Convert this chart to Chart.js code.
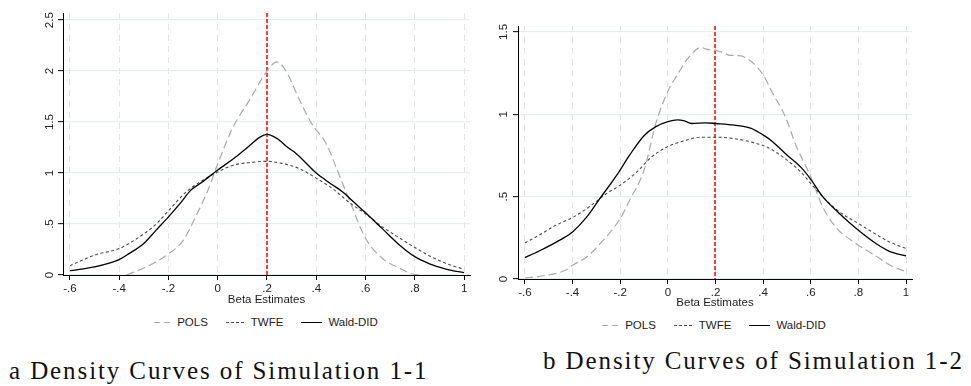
<!DOCTYPE html>
<html>
<head>
<meta charset="utf-8">
<script src="https://cdn.jsdelivr.net/npm/chart.js@4/dist/chart.umd.min.js"></script>
<style>
  html, body { margin: 0; padding: 0; background: #fff; }
  body { width: 971px; height: 386px; position: relative; overflow: hidden; font-family: "Liberation Sans", Arial, sans-serif; }
  .panel { position: absolute; }
  .legend { position: absolute; display: flex; align-items: center; font-size: 11.5px; color: #222; transform: translateX(-50%); white-space: nowrap; }
  .legend .sample { display: inline-block; height: 1px; margin-right: 6px; }
  .legend .item { display: flex; align-items: center; margin-right: 18px; }
  .legend .item:last-child { margin-right: 0; }
  .caption { position: absolute; font-family: "Liberation Serif", "Times New Roman", serif; font-size: 25px; color: #111; letter-spacing: 1.9px; white-space: nowrap; }
</style>
</head>
<body>

<div class="panel" style="left:0;top:0;width:490px;height:307px;"><canvas id="chartA" width="490" height="307"></canvas></div>
<div class="panel" style="left:490px;top:0;width:481px;height:310px;"><canvas id="chartB" width="481" height="310"></canvas></div>

<div class="legend" id="legendA" style="left:266px;top:316px;"></div>
<div class="legend" id="legendB" style="left:714px;top:319px;"></div>

<div class="caption" style="left:9px;top:357px;">a Density Curves of Simulation 1-1</div>
<div class="caption" style="left:543px;top:347px;">b Density Curves of Simulation 1-2</div>

<script>
// ---- data ----
const seriesNames = ['POLS', 'TWFE', 'Wald-DID'];
const xTicks = [-0.6, -0.4, -0.2, 0, 0.2, 0.4, 0.6, 0.8, 1];
const trueBeta = 0.2;

// Simulation 1-1
const aYTicks = [0, 0.5, 1, 1.5, 2, 2.5];
const aPolsX = [-0.37, -0.29, -0.21, -0.14, -0.09, -0.04, 0, 0.06, 0.13, 0.2, 0.24, 0.28, 0.32, 0.38, 0.44, 0.48, 0.54, 0.6, 0.67, 0.74, 0.79, 0.83];
const aPolsY = [0, 0.08, 0.19, 0.34, 0.57, 0.83, 1.09, 1.44, 1.72, 2.0, 2.09, 1.99, 1.78, 1.49, 1.29, 1.06, 0.70, 0.36, 0.16, 0.065, 0.01, 0];
const aTwfeX = [-0.6, -0.5, -0.4, -0.32, -0.25, -0.2, -0.13, -0.07, 0, 0.06, 0.14, 0.2, 0.26, 0.33, 0.4, 0.47, 0.54, 0.6, 0.67, 0.74, 0.8, 0.87, 0.93, 1.0];
const aTwfeY = [0.09, 0.195, 0.26, 0.37, 0.5, 0.63, 0.81, 0.915, 1.01, 1.075, 1.105, 1.115, 1.095, 1.045, 0.95, 0.84, 0.70, 0.60, 0.47, 0.36, 0.27, 0.175, 0.11, 0.056];
const aWaldX = [-0.6, -0.5, -0.43, -0.4, -0.36, -0.3, -0.25, -0.2, -0.15, -0.11, -0.07, 0, 0.08, 0.12, 0.17, 0.2, 0.24, 0.29, 0.31, 0.4, 0.45, 0.51, 0.55, 0.6, 0.67, 0.74, 0.8, 0.86, 0.93, 1.0];
const aWaldY = [0.042, 0.08, 0.125, 0.15, 0.21, 0.31, 0.44, 0.57, 0.71, 0.83, 0.90, 1.03, 1.17, 1.25, 1.35, 1.38, 1.34, 1.24, 1.21, 1.0, 0.91, 0.81, 0.72, 0.61, 0.45, 0.29, 0.18, 0.11, 0.056, 0.023];

// Simulation 1-2
const bYTicks = [0, 0.5, 1, 1.5];
const bPolsX = [-0.6, -0.54, -0.43, -0.4, -0.34, -0.29, -0.2, -0.16, -0.1, -0.05, 0, 0.04, 0.09, 0.14, 0.16, 0.2, 0.23, 0.26, 0.3, 0.35, 0.4, 0.44, 0.49, 0.54, 0.6, 0.65, 0.71, 0.77, 0.8, 0.88, 0.93, 1.0];
const bPolsY = [0.006, 0.016, 0.053, 0.083, 0.134, 0.205, 0.367, 0.479, 0.66, 0.946, 1.139, 1.24, 1.35, 1.406, 1.396, 1.388, 1.376, 1.358, 1.356, 1.32, 1.24, 1.128, 0.996, 0.804, 0.621, 0.438, 0.306, 0.235, 0.205, 0.134, 0.087, 0.043];
const bTwfeX = [-0.6, -0.54, -0.47, -0.4, -0.33, -0.26, -0.2, -0.13, -0.07, 0, 0.07, 0.14, 0.2, 0.28, 0.36, 0.42, 0.49, 0.56, 0.6, 0.65, 0.72, 0.8, 0.88, 0.93, 1.0];
const bTwfeY = [0.219, 0.266, 0.327, 0.373, 0.438, 0.516, 0.57, 0.65, 0.739, 0.804, 0.84, 0.861, 0.861, 0.852, 0.828, 0.798, 0.733, 0.647, 0.58, 0.5, 0.408, 0.337, 0.266, 0.225, 0.185];
const bWaldX = [-0.6, -0.54, -0.43, -0.4, -0.34, -0.29, -0.21, -0.16, -0.1, -0.05, 0, 0.04, 0.07, 0.1, 0.16, 0.2, 0.28, 0.35, 0.4, 0.44, 0.5, 0.56, 0.6, 0.65, 0.72, 0.8, 0.88, 0.93, 1.0];
const bWaldY = [0.13, 0.17, 0.256, 0.286, 0.377, 0.479, 0.64, 0.753, 0.87, 0.925, 0.955, 0.966, 0.96, 0.944, 0.948, 0.944, 0.934, 0.915, 0.875, 0.834, 0.753, 0.676, 0.605, 0.5, 0.398, 0.296, 0.209, 0.168, 0.14];

// ---- styles ----
const STYLES = [
    { color: '#a9a9a9', width: 1.2, dash: [8, 4], legendBg: 'repeating-linear-gradient(to right, #a9a9a9 0 6px, transparent 6px 10px)', legendW: 17 },
    { color: '#4a4a4a', width: 1.1, dash: [3, 2.5], legendBg: 'repeating-linear-gradient(to right, #4a4a4a 0 3px, transparent 3px 5px)', legendW: 19 },
    { color: '#000000', width: 1.3, dash: [], legendBg: '#000', legendW: 21 }
];
const FONT = "'Liberation Sans', Arial, sans-serif";

function fmt(v) {
    if (Math.abs(v) < 1e-9) return '0';
    return String(+v.toFixed(2)).replace('0.', '.');
}

function pts(xs, ys) {
    return xs.map((x, i) => ({ x: x, y: ys[i] }));
}

// red dashed line at the true beta, drawn under the curves
const refLinePlugin = {
    id: 'refLine',
    beforeDatasetsDraw(chart) {
        const { ctx, chartArea, scales } = chart;
        const px = Math.round(scales.x.getPixelForValue(trueBeta));
        ctx.save();
        ctx.strokeStyle = '#ff1010';
        ctx.lineWidth = 1.6;
        ctx.setLineDash([4, 2]);
        ctx.beginPath();
        ctx.moveTo(px, chartArea.top);
        ctx.lineTo(px, chartArea.bottom);
        ctx.stroke();
        ctx.restore();
    }
};

function makeChart(canvasId, series, yTicks, box) {
    const datasets = series.map((s, i) => ({
        label: seriesNames[i],
        data: pts(s[0], s[1]),
        borderColor: STYLES[i].color,
        borderWidth: STYLES[i].width,
        borderDash: STYLES[i].dash,
        pointRadius: 0,
        fill: false,
        cubicInterpolationMode: 'monotone',
        order: 3 - i
    }));

    return new Chart(document.getElementById(canvasId), {
        type: 'line',
        data: { datasets: datasets },
        plugins: [refLinePlugin],
        options: {
            responsive: false,
            animation: false,
            devicePixelRatio: 1,
            layout: { padding: { top: box.top, right: box.right, left: 0, bottom: 0 } },
            plugins: { legend: { display: false }, tooltip: { enabled: false } },
            scales: {
                x: {
                    type: 'linear',
                    min: box.xMin,
                    max: box.xMax,
                    afterBuildTicks: s => { s.ticks = xTicks.map(v => ({ value: v })); },
                    afterFit: s => { s.height = box.xH; },
                    ticks: { callback: v => fmt(v), color: '#222', padding: 2, maxRotation: 0, autoSkip: false, font: { family: FONT, size: 11.5 } },
                    grid: { color: '#e3e3e3', lineWidth: 1, tickLength: 5, tickColor: '#000', tickWidth: 1 },
                    border: { display: true, color: '#000', width: 1, dash: [6, 5] },
                    title: { display: true, text: 'Beta Estimates', color: '#222', padding: 0, font: { family: FONT, size: 11.5 } }
                },
                y: {
                    type: 'linear',
                    min: 0,
                    max: box.yMax,
                    afterBuildTicks: s => { s.ticks = yTicks.map(v => ({ value: v })); },
                    afterFit: s => { s.width = box.yW; },
                    ticks: { callback: v => fmt(v), color: '#222', padding: box.yPad, minRotation: 90, maxRotation: 90, crossAlign: 'center', font: { family: FONT, size: 11.5 } },
                    grid: { color: '#e9eef0', lineWidth: 1.3, tickLength: 5, tickColor: '#000', tickWidth: 1 },
                    border: { display: true, color: '#000', width: 1 }
                }
            }
        }
    });
}

function makeLegend(elId) {
    const el = document.getElementById(elId);
    el.innerHTML = seriesNames.map((n, i) =>
        `<span class="item"><span class="sample" style="width:${STYLES[i].legendW}px;background:${STYLES[i].legendBg}"></span>${n}</span>`
    ).join('');
}

makeChart('chartA', [[aPolsX, aPolsY], [aTwfeX, aTwfeY], [aWaldX, aWaldY]], aYTicks,
    { top: 13, right: 20, yW: 63, xH: 32, xMin: -0.628, xMax: 1.024, yMax: 2.57, yPad: 0 });
makeChart('chartB', [[bPolsX, bPolsY], [bTwfeX, bTwfeY], [bWaldX, bWaldY]], bYTicks,
    { top: 26, right: 59, yW: 28, xH: 31, xMin: -0.629, xMax: 1.025, yMax: 1.536, yPad: 1.5 });
makeLegend('legendA');
makeLegend('legendB');
</script>
</body>
</html>
